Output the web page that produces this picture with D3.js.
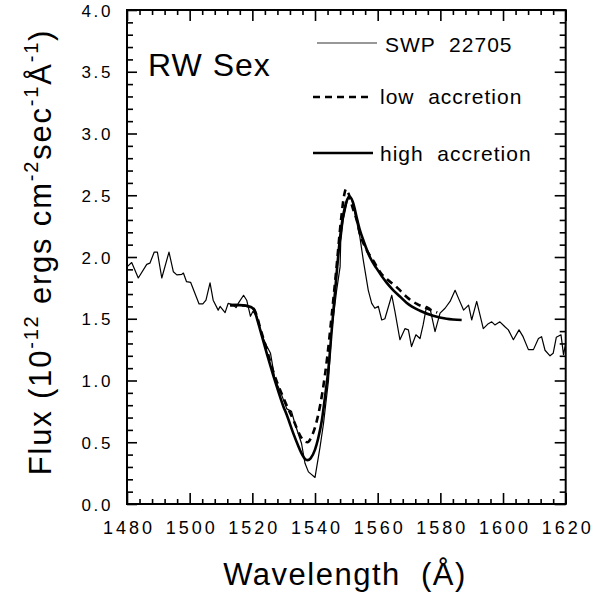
<!DOCTYPE html>
<html><head><meta charset="utf-8">
<script src="https://cdn.jsdelivr.net/npm/d3@7"></script>
<style>
body{margin:0;background:#fff;}
text{font-family:"Liberation Sans",Arial,Helvetica,sans-serif;fill:#000;}
</style></head>
<body><svg id="c" width="600" height="595"></svg>
<script>
// ---- data ----
const obsWave = [1480,1481.5,1483.6,1486.3,1487.3,1488.7,1489.7,1491.1,1493.4,1494.8,1495.9,1497.5,1498,1499,1500.3,1503,1504.2,1505.2,1506.5,1507.5,1509.1,1509.7,1511.3,1512.3,1513.9,1514.8,1515.5,1517.2,1518.2,1519.4,1520.2,1521.4,1522.5,1523.5,1524.6,1525.8,1527.2,1528.8,1531,1532.5,1533.6,1535.7,1536.8,1537.9,1540,1541.6,1542.7,1544.3,1545.3,1546.9,1548,1548.2,1549,1550.6,1551.7,1554.3,1555.4,1557,1558.1,1559.1,1560.2,1561.3,1562.3,1564.5,1565.5,1567.1,1568.7,1569.8,1570.8,1572.2,1573.5,1574.5,1575.6,1576.7,1578.3,1579.9,1581.5,1583.1,1584.7,1585.8,1587.4,1589,1590,1591.6,1593.7,1595.3,1596.4,1597.4,1599,1600.6,1601.7,1603.3,1605.1,1606.4,1608.1,1609.7,1611.3,1612.3,1613.4,1615,1616,1617,1618.5,1619.3,1620];
const obsFlux = [1.92,1.955,1.83,1.94,1.95,2.04,2.04,1.83,2.04,1.88,1.855,1.86,1.87,1.80,1.795,1.62,1.62,1.65,1.79,1.65,1.57,1.60,1.55,1.625,1.61,1.59,1.625,1.69,1.65,1.52,1.56,1.52,1.42,1.34,1.28,1.22,1.01,0.92,0.77,0.75,0.65,0.49,0.33,0.26,0.215,0.46,0.65,1.0,1.40,1.73,1.92,2.12,2.30,2.49,2.475,2.165,1.975,1.73,1.625,1.585,1.60,1.49,1.50,1.69,1.56,1.33,1.42,1.41,1.275,1.37,1.34,1.45,1.60,1.585,1.395,1.545,1.585,1.64,1.73,1.665,1.57,1.61,1.49,1.64,1.42,1.46,1.475,1.45,1.475,1.435,1.41,1.33,1.41,1.355,1.25,1.25,1.34,1.355,1.245,1.20,1.22,1.35,1.37,1.21,1.30];

const lowWave = [1512.9,1516,1518,1519.5,1520.7,1521.7,1522.4,1524.6,1526.7,1529.9,1533.1,1535.7,1536.8,1537.6,1538.9,1540,1541,1542.4,1543.9,1545.3,1546.8,1548.3,1549.3,1549.9,1550.6,1552,1553.3,1554.3,1556,1558.6,1561.3,1563,1566.3,1569.8,1572.5,1575.6,1579];
const lowFlux = [1.61,1.61,1.605,1.595,1.57,1.50,1.435,1.25,1.07,0.86,0.68,0.535,0.505,0.50,0.545,0.62,0.72,0.91,1.19,1.52,1.90,2.30,2.50,2.55,2.52,2.40,2.30,2.19,2.08,1.97,1.86,1.82,1.75,1.665,1.62,1.585,1.55];

const highWave = [1512.9,1516,1518,1519.5,1520.5,1521.5,1522.5,1524.6,1526.7,1527.8,1529.9,1531,1533.1,1534.5,1535.7,1536.8,1537.6,1538.6,1540,1541,1542.2,1543.2,1544.3,1545.3,1546.5,1548,1549.6,1550.6,1551.1,1552.2,1553.3,1554.3,1555.5,1557.5,1559.6,1562.9,1565,1567.1,1569.2,1573.5,1577.7,1582,1586.8];
const highFlux = [1.61,1.61,1.605,1.595,1.575,1.50,1.41,1.22,1.04,0.95,0.79,0.72,0.57,0.48,0.41,0.365,0.355,0.37,0.44,0.53,0.68,0.87,1.10,1.40,1.75,2.16,2.41,2.48,2.49,2.435,2.32,2.22,2.13,2.0,1.91,1.79,1.73,1.68,1.63,1.565,1.525,1.50,1.49];

const xMajor = [1480,1500,1520,1540,1560,1580,1600,1620];
const yMajor = [0,0.5,1,1.5,2,2.5,3,3.5,4];
const legendLabels = ["SWP  22705","low  accretion","high  accretion"];

// ---- layout ----
const svg = d3.select("#c");
const L=127, R=565.7, T=10, B=504;
const x = d3.scaleLinear().domain([1480,1620]).range([L,R]);
const y = d3.scaleLinear().domain([0,4]).range([B,T]);
const xMinor = d3.range(1480,1621,4).filter(v=>v%20!==0);
const yMinor = d3.range(0,41,1).map(v=>v/10).filter(v=>Math.round(v*10)%5!==0);

function ax(gen, tr, vals, size, labels){
  const g = svg.append("g").attr("transform",tr)
    .call(gen.tickValues(vals).tickSizeInner(-size).tickSizeOuter(0)
      .tickFormat(labels?labels:()=>""));
  g.select(".domain").remove();
  g.selectAll(".tick line").attr("stroke","#000").attr("stroke-width",1.6);
  return g;
}
// bottom
const gb = ax(d3.axisBottom(x).tickPadding(17), `translate(0,${B})`, xMajor, 11, d3.format("d"));
gb.selectAll("text").attr("font-size",18).attr("letter-spacing","3px").attr("dx","1.5").attr("fill","#000").style("font-family","Liberation Sans, Arial, sans-serif");
ax(d3.axisBottom(x), `translate(0,${B})`, xMinor, 5);
// top
ax(d3.axisTop(x), `translate(0,${T})`, xMajor, 11);
ax(d3.axisTop(x), `translate(0,${T})`, xMinor, 5);
// left
const gl = ax(d3.axisLeft(y).tickPadding(14), `translate(${L},0)`, yMajor, 10, d3.format(".1f"));
gl.selectAll("text").attr("font-size",17).attr("letter-spacing","2.6px").attr("dy","0.36em").attr("fill","#000").style("font-family","Liberation Sans, Arial, sans-serif");
ax(d3.axisLeft(y), `translate(${L},0)`, yMinor, 6);
// right
ax(d3.axisRight(y), `translate(${R},0)`, yMajor, 11);
ax(d3.axisRight(y), `translate(${R},0)`, yMinor, 6);

// frame
svg.append("rect").attr("x",L).attr("y",T).attr("width",R-L).attr("height",B-T)
  .attr("fill","none").attr("stroke","#000").attr("stroke-width",2);

// lines
const line = d3.line().x(d=>x(d[0])).y(d=>y(d[1]));
const obs = obsWave.map((w,i)=>[w,obsFlux[i]]);
const low = lowWave.map((w,i)=>[w,lowFlux[i]]);
const high = highWave.map((w,i)=>[w,highFlux[i]]);
const lineC = d3.line().curve(d3.curveMonotoneX).x(d=>x(d[0])).y(d=>y(d[1]));
svg.append("path").attr("d",line(obs)).attr("fill","none").attr("stroke","#000").attr("stroke-width",1.2).attr("stroke-linejoin","round");
svg.append("path").attr("d",lineC(high)).attr("fill","none").attr("stroke","#000").attr("stroke-width",2.6);
svg.append("path").attr("d",lineC(low)).attr("fill","none").attr("stroke","#000").attr("stroke-width",2.6).attr("stroke-dasharray","7,5");

// legend
const legY = [43,97,153], legTY=[52,104,161];
const legX1=[317,313,313], legX2=[377,373,373], legTX=[385,380,380];
const styles=[{w:1.1,d:null,c:"#333"},{w:2.4,d:"7,5",c:"#000"},{w:2.6,d:null,c:"#000"}];
legendLabels.forEach((t,i)=>{
  svg.append("line").attr("x1",legX1[i]).attr("x2",legX2[i]).attr("y1",legY[i]).attr("y2",legY[i])
    .attr("stroke",styles[i].c).attr("stroke-width",styles[i].w).attr("stroke-dasharray",styles[i].d);
  svg.append("text").attr("x",legTX[i]).attr("y",legTY[i]).attr("font-size",21).attr("letter-spacing","1px")
    .style("white-space","pre").text(t);
});

// star name
svg.append("text").attr("x",148).attr("y",76).attr("font-size",32).attr("letter-spacing","1px")
  .style("white-space","pre").text("RW Sex");

// x title
svg.append("text").attr("x",345).attr("y",585).attr("text-anchor","middle").attr("font-size",31)
  .attr("letter-spacing","1.5px").style("white-space","pre").text("Wavelength  (Å)");

// y title
const yt = svg.append("text").attr("transform","translate(51,252) rotate(-90)")
  .attr("text-anchor","middle").attr("font-size",31).attr("letter-spacing","1.8px").style("white-space","pre");
const parts=[["Flux (10",0],["-12",1],[" ergs cm",0],["-2",1],["sec",0],["-1",1],["Å",0],["-1",1],[")",0]];
let up=false;
parts.forEach(([t,s])=>{
  const ts = yt.append("tspan").text(t);
  if(s){ ts.attr("font-size",20).attr("dy",up?0:-13); up=true; }
  else { ts.attr("dy",up?13:0); up=false; }
});
</script></body></html>
